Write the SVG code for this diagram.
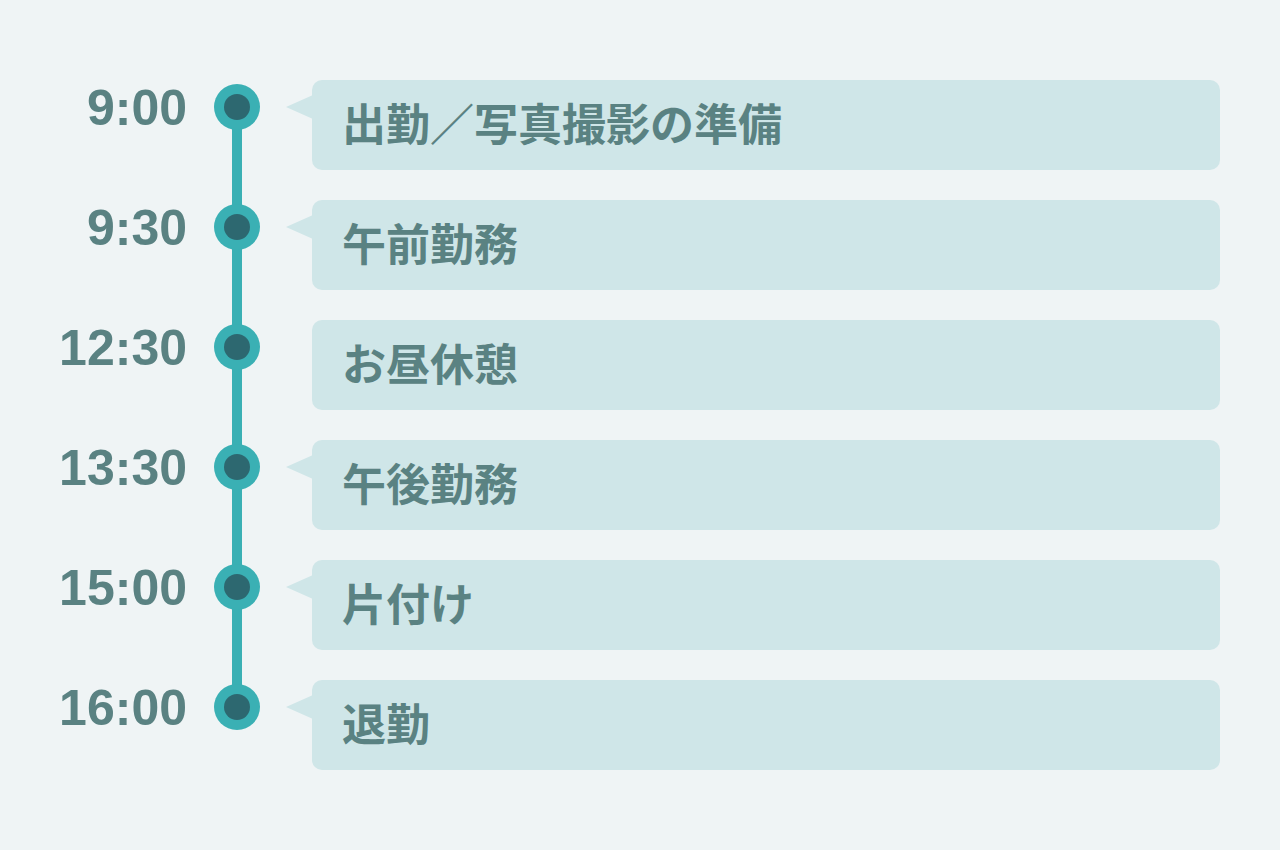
<svg xmlns="http://www.w3.org/2000/svg" width="1280" height="850" viewBox="0 0 1280 850">
<style>
.time{font-family:"Liberation Sans",Arial,sans-serif;font-weight:bold;font-size:50px;fill:#5a8282;text-anchor:end}
.label{font-family:"Noto Sans CJK JP","Noto Sans CJK SC",sans-serif;font-weight:bold;font-size:44px;fill:#5a8282}
.box{fill:#cfe6e8}
.outer{fill:#3ab0b4}
.inner{fill:#2d6870}
</style>
<rect width="1280" height="850" fill="#eff4f5"/>
<g id="connectors">
<rect x="232" y="107" width="10" height="600" fill="#3ab0b4"/>
</g>
<g id="n1">
<text class="time" x="187" y="125">9:00</text>
<circle class="outer" cx="237" cy="107" r="23"/><circle class="inner" cx="237" cy="107" r="13"/>
<rect class="box" x="312" y="80" width="908" height="90" rx="10"/>
<polygon class="box" points="286,107 313,95 313,119"/>
<text class="label" x="342" y="141">出勤／写真撮影の準備</text>
</g>
<g id="n2">
<text class="time" x="187" y="245">9:30</text>
<circle class="outer" cx="237" cy="227" r="23"/><circle class="inner" cx="237" cy="227" r="13"/>
<rect class="box" x="312" y="200" width="908" height="90" rx="10"/>
<polygon class="box" points="286,227 313,215 313,239"/>
<text class="label" x="342" y="261">午前勤務</text>
</g>
<g id="n3">
<text class="time" x="187" y="365">12:30</text>
<circle class="outer" cx="237" cy="347" r="23"/><circle class="inner" cx="237" cy="347" r="13"/>
<rect class="box" x="312" y="320" width="908" height="90" rx="10"/>
<text class="label" x="342" y="381">お昼休憩</text>
</g>
<g id="n4">
<text class="time" x="187" y="485">13:30</text>
<circle class="outer" cx="237" cy="467" r="23"/><circle class="inner" cx="237" cy="467" r="13"/>
<rect class="box" x="312" y="440" width="908" height="90" rx="10"/>
<polygon class="box" points="286,467 313,455 313,479"/>
<text class="label" x="342" y="501">午後勤務</text>
</g>
<g id="n5">
<text class="time" x="187" y="605">15:00</text>
<circle class="outer" cx="237" cy="587" r="23"/><circle class="inner" cx="237" cy="587" r="13"/>
<rect class="box" x="312" y="560" width="908" height="90" rx="10"/>
<polygon class="box" points="286,587 313,575 313,599"/>
<text class="label" x="342" y="621">片付け</text>
</g>
<g id="n6">
<text class="time" x="187" y="725">16:00</text>
<circle class="outer" cx="237" cy="707" r="23"/><circle class="inner" cx="237" cy="707" r="13"/>
<rect class="box" x="312" y="680" width="908" height="90" rx="10"/>
<polygon class="box" points="286,707 313,695 313,719"/>
<text class="label" x="342" y="741">退勤</text>
</g>
</svg>
